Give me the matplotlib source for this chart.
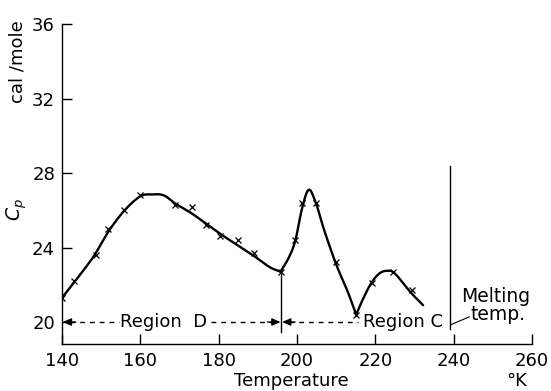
import numpy as np
import matplotlib
matplotlib.use("Agg")
import matplotlib.pyplot as plt

# measured points (x markers)
temp_obs = [140, 143.1, 148.8, 151.8, 155.9, 159.9, 168.8, 173.1, 176.7, 180.3,
            184.9, 189.0, 195.8, 199.6, 201.4, 204.8, 209.9, 215.1, 219.1, 224.4, 229.3]
cp_obs = [21.3, 22.2, 23.6, 25.0, 26.0, 26.8, 26.3, 26.2, 25.2, 24.6,
          24.4, 23.7, 22.7, 24.4, 26.4, 26.4, 23.2, 20.4, 22.1, 22.7, 21.7]

# smooth curve drawn through the points (three pieces, broken at the cusps)
curve_t = [
    [140, 143, 148, 152, 156, 160, 163, 166, 169, 173, 177, 181, 185, 189, 193, 195.8],
    [195.8, 198, 199.6, 201.3, 203.0, 204.8, 207, 210, 213, 215.1],
    [215.1, 217, 219, 221, 223, 225, 229, 232.2],
]
curve_cp = [
    [21.3, 22.1, 23.5, 24.9, 26.0, 26.75, 26.85, 26.8, 26.35, 25.85, 25.25, 24.65, 24.1, 23.55, 22.95, 22.7],
    [22.7, 23.5, 24.4, 26.1, 27.1, 26.4, 24.9, 23.1, 21.6, 20.4],
    [20.4, 21.3, 22.1, 22.6, 22.75, 22.6, 21.6, 20.9],
]

region_split = 196
melting_temp = 239


def catmull_rom(x, y, n=12):
    x = np.asarray(x, float)
    y = np.asarray(y, float)
    px = np.concatenate([[2 * x[0] - x[1]], x, [2 * x[-1] - x[-2]]])
    py = np.concatenate([[2 * y[0] - y[1]], y, [2 * y[-1] - y[-2]]])
    xs, ys = [], []
    for i in range(1, len(px) - 2):
        t = np.linspace(0, 1, n, endpoint=False)
        for p, out in ((px, xs), (py, ys)):
            p0, p1, p2, p3 = p[i - 1:i + 3]
            out.extend(0.5 * (2 * p1 + (-p0 + p2) * t + (2 * p0 - 5 * p1 + 4 * p2 - p3) * t ** 2
                              + (-p0 + 3 * p1 - 3 * p2 + p3) * t ** 3))
    xs.append(x[-1])
    ys.append(y[-1])
    return xs, ys


fig = plt.figure(figsize=(5.51, 3.91), dpi=100)
ax = fig.add_axes([0.1125, 0.1202, 0.853, 0.8184])

for t, c in zip(curve_t, curve_cp):
    sx, sy = catmull_rom(t, c)
    ax.plot(sx, sy, color="black", lw=1.7, solid_capstyle="round")

ax.plot(temp_obs, cp_obs, ls="none", marker="x", ms=4, mew=0.9, color="black")

# vertical lines
ax.plot([region_split, region_split], [19.45, 22.6], color="black", lw=1.0)
ax.plot([melting_temp, melting_temp], [19.6, 28.4], color="black", lw=1.0)

# dashed region arrows
dash = dict(color="black", lw=1.0, ls=(0, (3.5, 3.5)))
ax.plot([142, 154.5], [20, 20], **dash)
ax.plot([178, 194], [20, 20], **dash)
ax.plot([198, 215.5], [20, 20], **dash)
head = dict(arrowstyle="-|>,head_length=0.5,head_width=0.22", color="black", lw=1.0,
            shrinkA=0, shrinkB=0)
ax.annotate("", xy=(140.2, 20), xytext=(143.5, 20), arrowprops=head)
ax.annotate("", xy=(195.8, 20), xytext=(192.5, 20), arrowprops=head)
ax.annotate("", xy=(196.2, 20), xytext=(199.5, 20), arrowprops=head)

ax.text(166, 20, "Region  D", ha="center", va="center", fontsize=13)
ax.text(216.8, 20, "Region C", ha="left", va="center", fontsize=13)
ax.text(242.0, 21.35, "Melting", ha="left", va="center", fontsize=13.5)
ax.text(244.2, 20.4, "temp.", ha="left", va="center", fontsize=13.5)
ax.plot([melting_temp + 0.2, 244.0], [19.85, 20.28], color="black", lw=0.8)

ax.set_xlim(140, 260)
ax.set_ylim(18.82, 36)
ax.set_xticks([140, 160, 180, 200, 220, 240, 260])
ax.set_yticks([20, 24, 28, 32, 36])
for s in ("top", "right"):
    ax.spines[s].set_visible(False)
for s in ("left", "bottom"):
    ax.spines[s].set_linewidth(1.0)
ax.tick_params(direction="in", length=7, width=1.0, labelsize=13)
ax.tick_params(axis="x", pad=6)
ax.tick_params(axis="y", pad=5)

fig.text(17 / 551, 1 - 62 / 391, "cal /mole", rotation=90, ha="center", va="center", fontsize=13)
fig.text(17 / 551, 1 - 210 / 391, "$C_p$", rotation=90, ha="center", va="center", fontsize=13.5)
fig.text(291.5 / 551, 1 - 381.5 / 391, "Temperature", ha="center", va="center", fontsize=13)
fig.text(517 / 551, 1 - 381.5 / 391, "°K", ha="center", va="center", fontsize=13)

fig.savefig("out.png", dpi=100)
